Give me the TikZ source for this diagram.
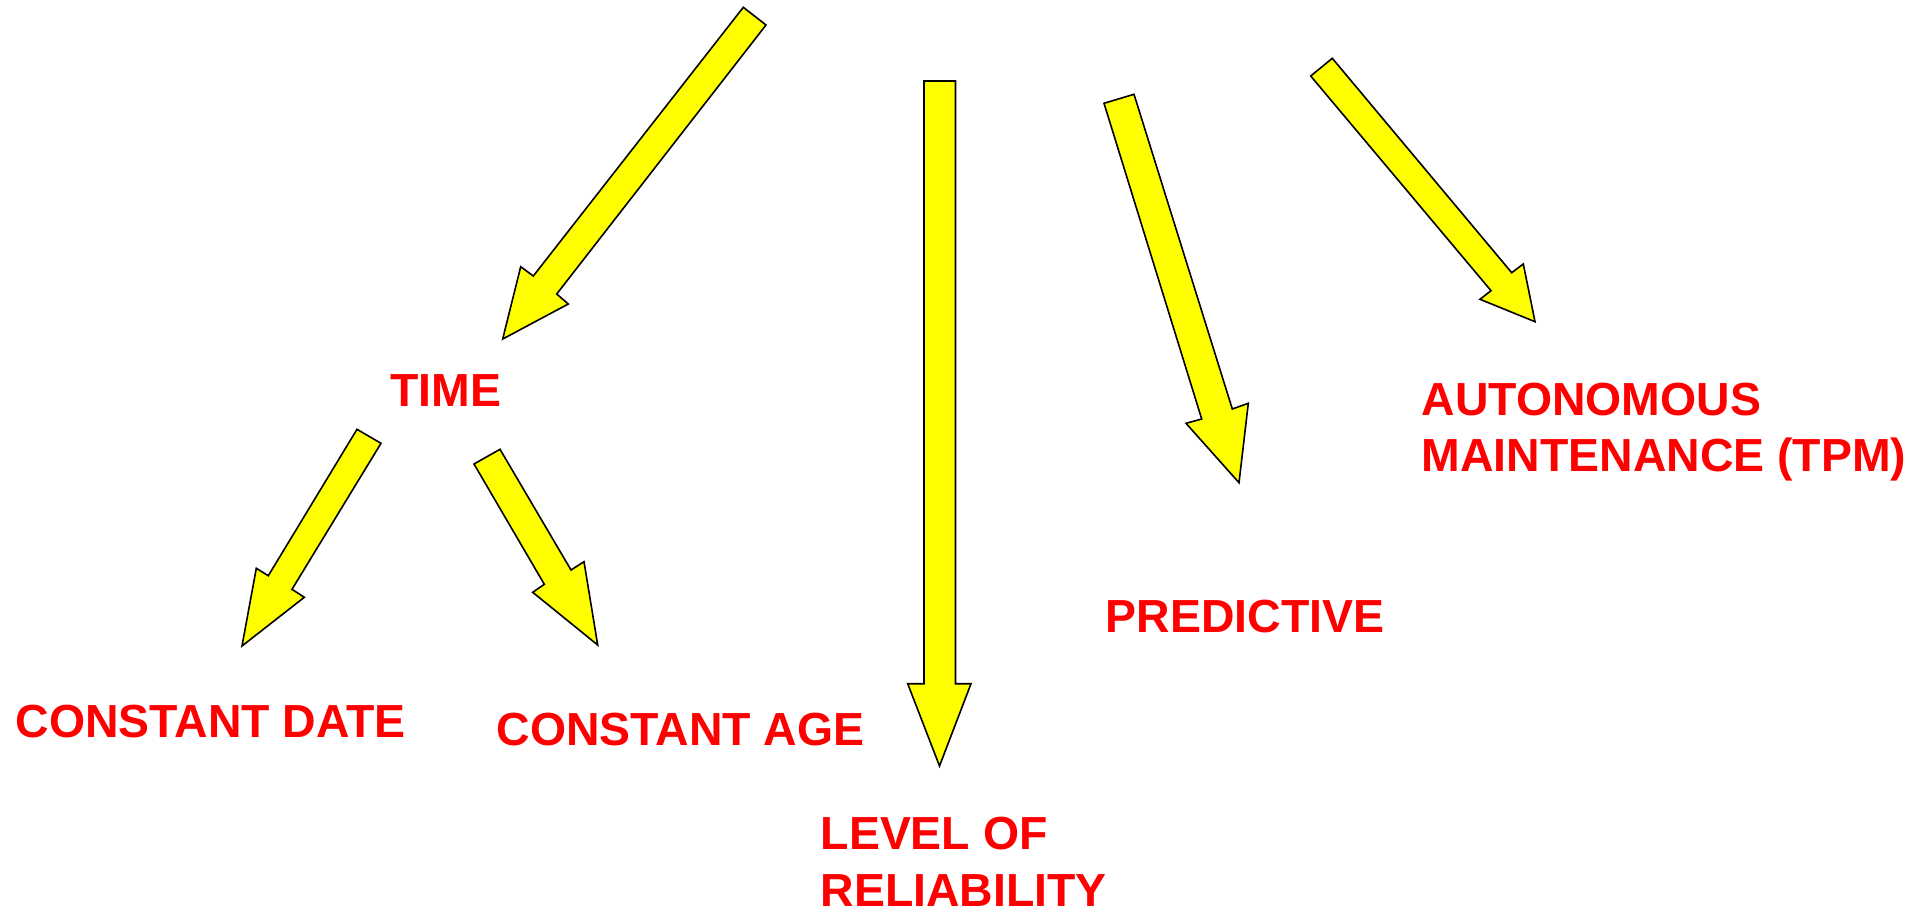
\documentclass[tikz,border=0pt]{standalone}
\usepackage{fontspec}
\setmainfont{Liberation Sans}
\definecolor{arrowyellow}{RGB}{255,255,0}
\definecolor{labelred}{RGB}{255,0,0}
\begin{document}
\begin{tikzpicture}[x=1pt,y=-1pt,
  blockarrow/.style={fill=arrowyellow,draw=black,line width=1.6pt,line join=miter},
  lab/.style={text=labelred,font=\fontsize{46.4}{56.7}\selectfont\bfseries,inner sep=0pt,anchor=base west,align=left}]
\useasboundingbox[fill=white] (0,0) rectangle (1931,910);
% arrow to TIME
\draw[blockarrow] (743.3,7.3) -- (766,25) -- (556.7,294) -- (568.3,304) -- (502.7,339) -- (520.7,266.7) -- (533.3,276) -- cycle;
% vertical arrow to LEVEL OF RELIABILITY
\draw[blockarrow] (924,81) -- (955.5,81) -- (955.5,683.7) -- (971,683.7) -- (939.5,766) -- (907.7,683.7) -- (924,683.7) -- cycle;
% arrow to PREDICTIVE
\draw[blockarrow] (1104,103.3) -- (1134,94.3) -- (1232.3,409) -- (1248.3,403.3) -- (1239,482.7) -- (1186,423.3) -- (1201.7,419) -- cycle;
% arrow to AUTONOMOUS MAINTENANCE
\draw[blockarrow] (1332.3,58.3) -- (1511.7,272.7) -- (1523.3,264) -- (1535,321.7) -- (1480,299.3) -- (1491,290.7) -- (1310.7,76) -- cycle;
% arrow to CONSTANT DATE
\draw[blockarrow] (357,429.3) -- (381,443.3) -- (292,589.3) -- (304.3,597.3) -- (242,646) -- (256.3,568.3) -- (268.3,575.7) -- cycle;
% arrow to CONSTANT AGE
\draw[blockarrow] (474,464) -- (500,449.3) -- (571,570) -- (584,561.7) -- (597.7,645) -- (532.7,592.3) -- (544.3,584.3) -- cycle;
% labels
\node[lab] (time) at (390,406.7) {TIME};
\node[lab] (cdate) at (15.5,737.5) {CONSTANT DATE};
\node[lab] (cage) at (496.5,745.5) {CONSTANT AGE};
\node[lab] (pred) at (1105.5,632.7) {PREDICTIVE};
\node[lab] (level) at (820.5,906) {LEVEL OF\\RELIABILITY};
\node[lab] (auto) at (1421.5,471.7) {AUTONOMOUS\\MAINTENANCE (TPM)};
\end{tikzpicture}
\end{document}
